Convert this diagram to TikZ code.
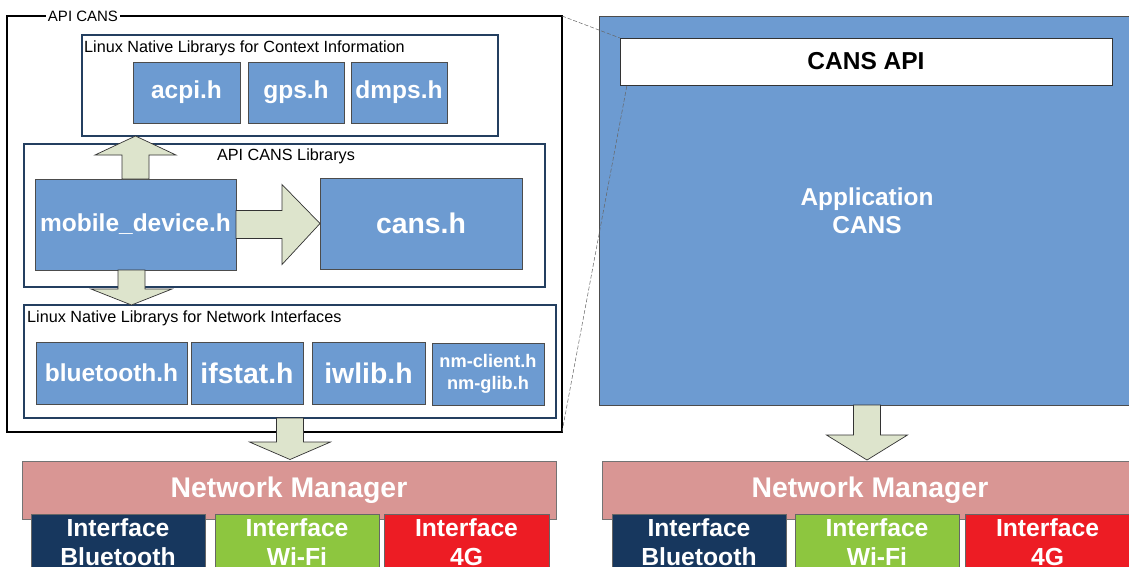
\documentclass[tikz,border=0pt]{standalone}
\usepackage{fontspec}
\setmainfont{Liberation Sans}
\usetikzlibrary{calc}
\definecolor{bluebox}{HTML}{6D9BD1}
\definecolor{navyline}{HTML}{243F60}
\definecolor{arrowfill}{HTML}{DDE4CC}
\definecolor{nmpink}{HTML}{D99694}
\definecolor{btblue}{HTML}{17375E}
\definecolor{wfgreen}{HTML}{8DC63F}
\definecolor{fgred}{HTML}{ED1C24}
\tikzset{
  rect/.style={rectangle, anchor=north west, inner sep=0pt, outer sep=0pt},
  frame/.style={rect, draw=black, line width=1.1pt},
  cont/.style={rect, draw=navyline, line width=1.2pt, fill=white},
  bluebx/.style={rect, fill=bluebox, draw=black!70, line width=0.7pt, text=white, align=center},
  barrow/.style={fill=arrowfill, draw=black!80, line width=0.7pt},
  nmbox/.style={rect, fill=nmpink, draw=black!55, line width=0.7pt, text=white,
    font=\bfseries\fontsize{28.4}{32}\selectfont},
  ifbox/.style={rect, draw=black!60, line width=0.7pt},
  iftext/.style={anchor=north, inner sep=0pt, text=white, align=center,
    font=\bfseries\fontsize{24.7}{29}\selectfont},
  ttl/.style={inner sep=0pt, font=\fontsize{16.2}{19}\selectfont},
  fa/.style={font=\bfseries\fontsize{24.5}{28}\selectfont},
  fb/.style={font=\bfseries\fontsize{28.4}{32}\selectfont},
  fc/.style={font=\bfseries\fontsize{18.2}{22}\selectfont},
  guide/.style={draw=black!60, line width=0.5pt, dash pattern=on 4pt off 2pt},
}
\begin{document}
\begin{tikzpicture}[x=1pt,y=-1pt]
\clip (0,0) rectangle (1129,566);
\fill[white] (0,0) rectangle (1129,566);

% ---------- left: API CANS ----------
\node[frame, minimum width=555, minimum height=416] (apicans) at (7,16) {};
\node[fill=white, inner sep=1.5pt, font=\fontsize{15}{18}\selectfont] (apilbl) at (83,16) {API CANS};

\node[cont, minimum width=416, minimum height=101] (ctx) at (82,35) {};
\node[ttl, anchor=west] (ctxt) at (84,48) {Linux Native Librarys for Context Information};
\node[bluebx, fa, minimum width=107, minimum height=61] (acpi) at (133,62) {acpi.h};
\node[bluebx, fa, minimum width=96, minimum height=61] (gps) at (248,62) {gps.h};
\node[bluebx, fa, minimum width=96, minimum height=61] (dmps) at (351,62) {dmps.h};

\node[cont, minimum width=521, minimum height=143] (libs) at (24,144) {};
\node[ttl] (libst) at (286,156) {API CANS Librarys};
\node[bluebx, fa, minimum width=201, minimum height=91] (md) at (35,179) {mobile\_device.h};
\node[bluebx, fb, minimum width=202, minimum height=91] (cans) at (320,178) {cans.h};

\node[cont, minimum width=532, minimum height=113] (nif) at (24,305) {};
\node[ttl, anchor=west] (nift) at (27,318) {Linux Native Librarys for Network Interfaces};
\node[bluebx, fa, minimum width=151, minimum height=62] (bt) at (36,342) {bluetooth.h};
\node[bluebx, fb, minimum width=112, minimum height=62] (ifs) at (191,342) {ifstat.h};
\node[bluebx, fb, minimum width=113, minimum height=62] (iwl) at (312,342) {iwlib.h};
\node[bluebx, fc, minimum width=112, minimum height=62] (nmc) at (432,343) {nm-client.h\\nm-glib.h};

% block arrows (left)
\draw[barrow] ($(md.north)+(-13.5,0)$) -- ++(0,-24) -- ++(-27,0) -- (md.north |- ctx.south)
  -- ($(md.north)+(40.5,-24)$) -- ++(-27,0) -- ($(md.north)+(13.5,0)$) -- cycle;
\coordinate (d1) at ($(md.south)+(-4,0)$);
\draw[barrow] ($(d1)+(-13.5,0)$) -- ++(0,19) -- ++(-27,0) -- (d1 |- nif.north)
  -- ($(d1)+(40.5,19)$) -- ++(-27,0) -- ($(d1)+(13.5,0)$) -- cycle;
\draw[barrow] ($(md.east)+(0,-14)$) -- ++(46,0) -- ++(0,-26) -- (cans.west)
  -- ($(md.east)+(46,40)$) -- ++(0,-26) -- ($(md.east)+(0,14)$) -- cycle;

% ---------- left: network manager ----------
\node[nmbox, minimum width=534, minimum height=58] (nm1) at (22,461) {Network Manager};
\draw[barrow] ($(nif.south)+(-13.5,0)$) -- ++(0,24) -- ++(-27,0) -- ($(nif.south |- nm1.north)+(0,-1.5)$)
  -- ($(nif.south)+(40.5,24)$) -- ++(-27,0) -- ($(nif.south)+(13.5,0)$) -- cycle;
\node[ifbox, fill=btblue, minimum width=174, minimum height=80] (ib1) at (31,514) {};
\node[ifbox, fill=wfgreen, minimum width=164, minimum height=80] (iw1) at (215,514) {};
\node[ifbox, fill=fgred, minimum width=165, minimum height=80] (i41) at (384,514) {};
\node[iftext] (ib1t) at ($(ib1.north)+(0,4)$) {Interface\\Bluetooth};
\node[iftext] (iw1t) at ($(iw1.north)+(0,4)$) {Interface\\Wi-Fi};
\node[iftext] (i41t) at ($(i41.north)+(0,4)$) {Interface\\4G};

% ---------- right: application ----------
\node[rect, fill=bluebox, draw=black!70, line width=0.8pt, minimum width=536, minimum height=389,
  text=white, align=center, font=\bfseries\fontsize{24.4}{28}\selectfont] (app) at (599,16) {Application\\CANS};
\node[rect, fill=white, draw=black!80, line width=0.9pt, minimum width=492, minimum height=47,
  font=\bfseries\fontsize{24.5}{28}\selectfont] (capi) at (620,38) {CANS API};

\draw[guide] (apicans.north east) -- (capi.north west);
\draw[guide] (apicans.south east) -- ($(capi.south west)+(7,0)$);

\node[nmbox, minimum width=536, minimum height=58] (nm2) at (602,461) {Network Manager};
\draw[barrow] ($(app.south)+(-13.5,0)$) -- ++(0,30) -- ++(-27,0) -- ($(app.south |- nm2.north)+(0,-1)$)
  -- ($(app.south)+(40.5,30)$) -- ++(-27,0) -- ($(app.south)+(13.5,0)$) -- cycle;
\node[ifbox, fill=btblue, minimum width=174, minimum height=80] (ib2) at (612,514) {};
\node[ifbox, fill=wfgreen, minimum width=164, minimum height=80] (iw2) at (795,514) {};
\node[ifbox, fill=fgred, minimum width=165, minimum height=80] (i42) at (965,514) {};
\node[iftext] (ib2t) at ($(ib2.north)+(0,4)$) {Interface\\Bluetooth};
\node[iftext] (iw2t) at ($(iw2.north)+(0,4)$) {Interface\\Wi-Fi};
\node[iftext] (i42t) at ($(i42.north)+(0,4)$) {Interface\\4G};
\end{tikzpicture}
\end{document}
